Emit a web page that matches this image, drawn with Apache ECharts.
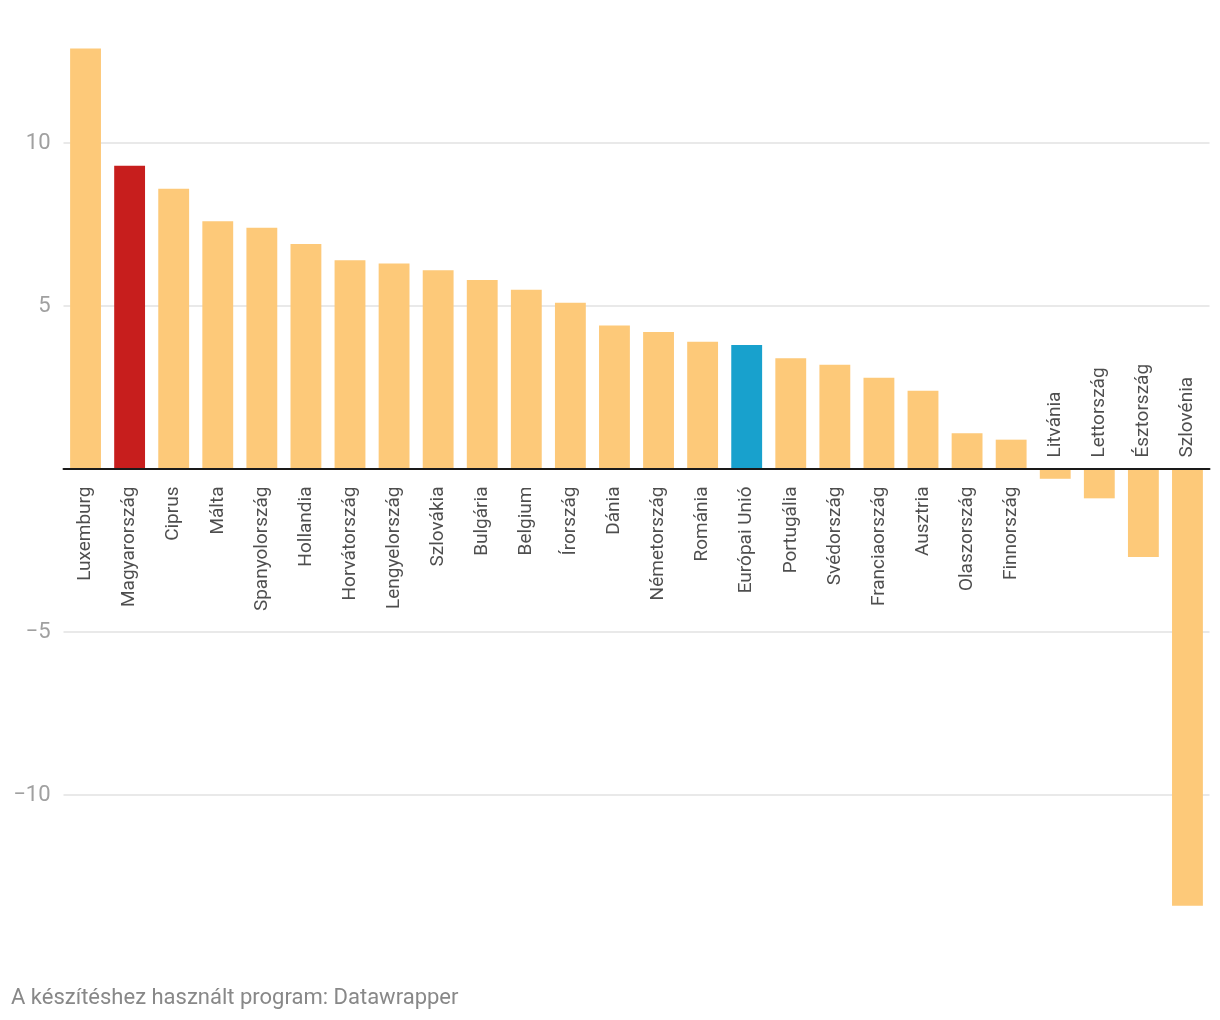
<!DOCTYPE html>
<html>
<head>
<meta charset="utf-8">
<script src="https://cdn.jsdelivr.net/npm/echarts@6/dist/echarts.min.js"></script>
<style>
  html, body { margin: 0; padding: 0; background: #fff; }
  #chart { width: 1220px; height: 1020px; }
</style>
</head>
<body>
<div id="chart"></div>
<script>
const categories = ['Luxemburg','Magyarország','Ciprus','Málta','Spanyolország','Hollandia','Horvátország','Lengyelország','Szlovákia','Bulgária','Belgium','Írország','Dánia','Németország','Románia','Európai Unió','Portugália','Svédország','Franciaország','Ausztria','Olaszország','Finnország','Litvánia','Lettország','Észtország','Szlovénia'];
const values = [12.9, 9.3, 8.6, 7.6, 7.4, 6.9, 6.4, 6.3, 6.1, 5.8, 5.5, 5.1, 4.4, 4.2, 3.9, 3.8, 3.4, 3.2, 2.8, 2.4, 1.1, 0.9, -0.3, -0.9, -2.7, -13.4];
const yTicks = [-10, -5, 0, 5, 10];
const footer = 'A készítéshez használt program: Datawrapper';

const highlight = { 'Magyarország': '#c71e1d', 'Európai Unió': '#18a1cd' };
const baseColor = '#fdc979';

const chart = echarts.init(document.getElementById('chart'));

const barData = values.map((v, i) => ({
  value: v,
  itemStyle: { color: highlight[categories[i]] || baseColor }
}));

const labelData = values.map((v, i) => ({
  value: [i, 0],
  label: v >= 0
    ? { position: 'bottom', distance: 17, align: 'right', verticalAlign: 'middle' }
    : { position: 'top', distance: 11, align: 'left', verticalAlign: 'middle' }
}));

// px per unit = 652 / 20 ; grid top 10 => max = 10 + 133 / 32.6
const yMax = 10 + 133 / 32.6;
const yMin = -14;

chart.setOption({
  animation: false,
  backgroundColor: '#ffffff',
  textStyle: { fontFamily: 'Roboto' },
  graphic: [{
    type: 'text',
    left: 11,
    top: 987,
    style: { text: footer, fontFamily: 'Roboto', fontSize: 22, fill: '#888888' }
  }],
  grid: { left: 63.5, width: 1146, top: 10, height: (yMax - yMin) * 32.6, containLabel: false },
  xAxis: {
    type: 'category',
    data: categories,
    axisLine: { onZero: true, lineStyle: { color: '#1a1a1a', width: 2 } },
    axisTick: { show: false },
    axisLabel: { show: false },
    splitLine: { show: false },
    z: 10
  },
  yAxis: {
    type: 'value',
    min: yMin,
    max: yMax,
    axisLine: { show: false },
    axisTick: { show: false, customValues: yTicks },
    axisLabel: {
      customValues: yTicks,
      fontFamily: 'Roboto',
      fontSize: 22,
      color: '#a0a0a0',
      margin: 13,
      formatter: function (v) {
        if (v === 0) return '';
        return String(v).replace('-', '\u2212');
      }
    },
    splitLine: {
      show: true,
      lineStyle: { color: '#e2e2e2', width: 1.5 }
    }
  },
  series: [
    {
      type: 'bar',
      data: barData,
      barCategoryGap: '30%',
      z: 2
    },
    {
      type: 'scatter',
      data: labelData,
      symbolSize: 1,
      itemStyle: { color: 'rgba(0,0,0,0)' },
      silent: true,
      z: 5,
      label: {
        show: true,
        rotate: 90,
        fontFamily: 'Roboto',
        fontSize: 19,
        color: '#222222',
        formatter: function (p) { return categories[p.dataIndex]; }
      },
      labelLayout: { hideOverlap: false }
    }
  ]
});
</script>
</body>
</html>
